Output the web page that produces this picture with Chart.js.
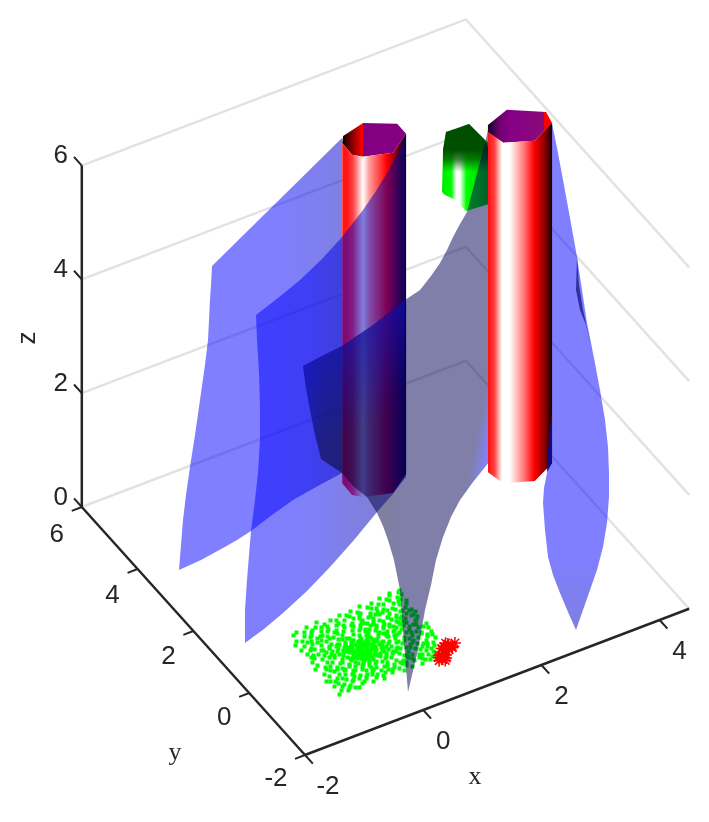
<!DOCTYPE html>
<html>
<head>
<meta charset="utf-8">
<title>3D scene</title>
<style>
  html, body { margin: 0; background: #fff; }
  canvas { display: block; }
</style>
<script src="https://cdn.jsdelivr.net/npm/chart.js@4"></script>
</head>
<body>
<canvas id="scene" width="709" height="822"></canvas>
<script>
// ---------- Data ----------
const xTicks = [-2, 0, 2, 4];
const yTicks = [-2, 0, 2, 4, 6];
const zTicks = [0, 2, 4, 6];
const xMax = 4.5;

// cylinder rims (x, y)
const leftRimX = [1.52, 1.61, 2.01, 2.43, 2.43, 2.05, 1.62, 1.51];
const leftRimY = [4.12, 4.28, 4.41, 4.08, 3.76, 3.42, 3.60, 3.75];
const rightRimX = [3.56, 3.97, 4.44, 4.39, 3.97, 3.55, 3.48];
const rightRimY = [3.22, 3.41, 3.00, 2.68, 2.41, 2.65, 3.05];
const cylinderZ = [0.05, 6.03];

// sheet outlines, read in the projected plane of the plot
const sheetA = [[212,266],[342,138],[342,473],[318,486],[293,500],[272,515],[251,531],[237,540],[223,548],[201,560],[179,570],[181,545],[183,520],[186,495],[190,467],[195,435],[200,400],[205,365],[208,340],[210,300],[211,285]];
const sheetB = [[256,315],[278,298],[300,280],[322,259],[342,237],[363,210],[376,191],[387,173],[397,155],[406,135],[406,477],[392,495],[377,512],[354,540],[330,567],[307,591],[283,613],[264,629],[245,643],[245,610],[247,580],[249,555],[251,531],[255,500],[258,473],[260,440],[260,407],[259,373],[257,340]];
const sheetC = [[303,366],[322,356],[342,346],[373,325],[405,300],[420,290],[431,276],[440,263],[447,250],[453,237],[460,224],[467,212],[485,143],[489,125],[500,125],[500,465],[488,463],[473,482],[460,500],[451,517],[443,537],[436,560],[431,585],[425,610],[418,650],[408,692],[403,630],[400,590],[394,560],[388,540],[383,526],[377,513],[367,497],[354,487],[342,473],[321,459],[315,435],[310,410],[306,388]];
const sheetCUpperGlow = [[303,366],[322,356],[342,346],[373,325],[405,300],[405,400],[342,441],[321,455],[315,435],[310,410],[306,388]];
const sheetCLowerGlow = [[488,380],[488,463],[473,482],[466,487]];
const sheetD = [[545,125],[552,123],[558,153],[563,180],[570,218],[577,257],[582,290],[587,323],[594,358],[600,390],[605,420],[608,447],[609,473],[609,497],[607,523],[603,547],[597,570],[590,590],[583,610],[576,630],[568,612],[560,593],[553,575],[548,557],[545,530],[543,503],[544,488],[547,473],[549,445],[552,420],[545,420]];
const sheetFoldUpper = [[577,257],[579,285],[583,310],[592,350],[586,325],[580,310],[576,290]];
const sheetFoldLower = [[552,410],[552,463],[547,472],[548,450]];

// small green body behind the right cylinder
const blobBody = [[446,132],[469,124],[485,140],[489,143],[489,204],[466,211],[456,200],[445,195],[442,192],[443,150]];
const blobCap = [[446,132],[469,124],[485,140],[489,150],[489,175],[443,175],[443,150]];

// scatter on the floor (x, y)
const greenPoints = [
[-.88,-.87],[-.72,-.85],[-.81,-.78],[-.64,-.74],[-.55,-.88],[-.47,-.81],[-.36,-.72],[-.31,-.86],[-.22,-.79],[-.13,-.9],[-.05,-.76],[.04,-.83],[.12,-.71],[.21,-.88],[.29,-.78],[.37,-.85],[.45,-.74],[.52,-.89],[.61,-.8],[.69,-.72],[.77,-.86],[.84,-.77],[-.76,-.7],[-.6,-.83],[-.41,-.77],[-.18,-.73],[.08,-.74],[.33,-.7],[.57,-.76],[.73,-.8],
[-.86,-.63],[-.79,-.52],[-.7,-.67],[-.62,-.58],[-.53,-.64],[-.49,-.51],[-.4,-.6],[-.33,-.68],[-.27,-.53],[-.2,-.62],[-.11,-.55],[-.07,-.66],[.01,-.59],[.09,-.52],[.15,-.64],[.23,-.57],[.31,-.62],[.38,-.51],[.44,-.67],[.5,-.56],[.58,-.63],[.65,-.52],[.72,-.6],[.8,-.68],[.87,-.55],[.93,-.64],[-.66,-.5],[-.16,-.5],[.27,-.69],[.62,-.66],[.78,-.51],
[-.89,-.42],[-.8,-.33],[-.73,-.46],[-.65,-.37],[-.58,-.44],[-.51,-.31],[-.43,-.41],[-.37,-.34],[-.3,-.47],[-.24,-.36],[-.17,-.43],[-.12,-.32],[-.03,-.4],[.03,-.46],[.07,-.33],[.14,-.39],[.2,-.45],[.26,-.35],[.34,-.42],[.41,-.31],[.47,-.47],[.55,-.38],[.6,-.45],[.68,-.34],[.75,-.41],[.83,-.36],[.9,-.46],[.97,-.38],[-.46,-.48],[-.21,-.3],[-.08,-.45],[.11,-.43],[.29,-.31],[-.55,-.34],
[-.84,-.24],[-.75,-.14],[-.68,-.27],[-.6,-.19],[-.54,-.26],[-.47,-.12],[-.41,-.22],[-.35,-.16],[-.29,-.28],[-.26,-.11],[-.2,-.2],[-.15,-.25],[-.14,-.13],[-.09,-.18],[-.04,-.27],[-.01,-.12],[.02,-.21],[.06,-.15],[.1,-.26],[.16,-.19],[.19,-.11],[.25,-.23],[.32,-.17],[.39,-.27],[.43,-.13],[.49,-.22],[.56,-.16],[.63,-.28],[.7,-.12],[.76,-.21],[.85,-.15],[.91,-.24],[1,-.18],[-.23,-.15],[-.18,-.16],[-.11,-.22],[-.06,-.14],[.04,-.24],[-.32,-.24],
[-.9,-.05],[-.82,.04],[-.74,-.08],[-.66,.02],[-.6,-.03],[-.52,.07],[-.45,-.06],[-.39,.03],[-.33,-.09],[-.28,.05],[-.24,-.04],[-.19,.01],[-.16,-.08],[-.13,.06],[-.1,-.02],[-.07,.08],[-.03,-.06],[.01,.03],[.05,-.09],[.08,.05],[.13,-.03],[.18,.07],[.22,-.07],[.28,.02],[.35,-.05],[.4,.08],[.46,-.02],[.53,.05],[.59,-.08],[.67,.01],[.74,.07],[.81,-.06],[.88,.03],[.95,-.01],[1.02,.06],[-.21,.08],[-.17,-.01],[-.09,.02],[-.05,.04],[-.26,-.06],[.11,.01],[-.43,.09],
[-.86,.16],[-.78,.24],[-.7,.13],[-.63,.2],[-.56,.27],[-.5,.12],[-.42,.18],[-.36,.26],[-.3,.11],[-.25,.21],[-.19,.15],[-.14,.28],[-.08,.12],[-.02,.2],[.03,.26],[.09,.14],[.15,.22],[.2,.11],[.27,.18],[.33,.27],[.39,.13],[.45,.22],[.51,.16],[.57,.28],[.64,.12],[.71,.2],[.78,.26],[.84,.14],[.92,.21],[.98,.29],[-.69,.29],[-.11,.19],[.06,.11],[.36,.2],[.6,.23],[-.47,.24],
[-.83,.38],[-.76,.32],[-.68,.44],[-.61,.35],[-.55,.47],[-.48,.33],[-.41,.41],[-.34,.36],[-.27,.46],[-.21,.34],[-.15,.42],[-.09,.31],[-.03,.45],[.04,.37],[.1,.48],[.17,.33],[.24,.43],[.3,.36],[.37,.47],[.42,.32],[.48,.41],[.55,.37],[.62,.46],[.68,.33],[.75,.42],[.82,.36],[.89,.48],[.96,.39],[1.03,.44],[-.38,.31],[.19,.47],[.5,.49],[.72,.47],
[-.85,.55],[-.77,.62],[-.71,.51],[-.64,.66],[-.57,.58],[-.52,.68],[-.44,.53],[-.37,.63],[-.31,.56],[-.24,.67],[-.18,.52],[-.12,.61],[-.06,.69],[.01,.55],[.07,.64],[.13,.53],[.21,.66],[.28,.58],[.34,.51],[.41,.65],[.47,.56],[.53,.68],[.59,.54],[.66,.62],[.73,.52],[.79,.67],[.86,.57],[.94,.63],[1,.53],[-.5,.6],[.16,.6],[.38,.57],
[-.83,.8],[-.75,.74],[-.67,.85],[-.6,.77],[-.53,.88],[-.46,.72],[-.39,.82],[-.32,.75],[-.26,.87],[-.19,.71],[-.13,.83],[-.04,.76],[.03,.88],[.09,.73],[.16,.84],[.23,.78],[.3,.89],[.36,.71],[.43,.81],[.49,.74],[.56,.86],[.63,.77],[.7,.89],[.76,.72],[.83,.82],[.9,.75],[.97,.87],[1.04,.79],[-.28,.79],[.26,.71],[.6,.72],
[-.8,.97],[-.71,1.02],[-.62,.94],[-.54,1.04],[-.43,.96],[-.35,1.07],[-.27,.95],[-.16,1],[-.08,.93],[.02,1.05],[.11,.97],[.2,1.03],[.28,.94],[.37,1.08],[.46,.98],[.55,1.03],[.64,.95],[.72,1.09],[.8,1],[.87,1.06],[.95,.94],[1.02,1.04],[1.06,1.1],[.9,1.1],
[-.84,-.46],[-.67,-.11],[-.58,.33],[-.44,-.29],[-.38,.57],[-.29,-.63],[-.23,.29],[-.17,-.58],[-.12,.38],[-.06,-.33],[.02,.16],[.06,-.61],[.13,.31],[.18,-.32],[.24,.62],[.31,-.09],[.35,.42],[.42,-.56],[.48,.06],[.54,.79],[.59,-.31],[.66,.37],[.71,-.47],[.77,.13],[.83,.58],[.88,-.28],[.94,.24],[.99,.71],[-.74,.46],[-.62,-.23],[-.53,.16],[-.48,-.57],[-.42,.72],[-.36,-.04],[-.31,.33],[-.27,-.41],[-.22,.17],[-.2,-.09],[-.16,.24],[-.13,-.36],[-.1,.09],[-.08,-.11],[-.05,.23],[-.02,-.15],[.01,.11],[.04,-.06],[.07,.18],[.1,-.12],[.14,.08],[.17,-.24],[.22,.13],[.26,-.14],[.3,.24],[.36,-.29],[.41,.17],[.47,-.12],[.52,.31],[.58,.09],[.64,-.17],[.69,.27],[.73,-.03],[.79,.44],[.86,-.11],[.92,.38],[.97,-.27],[-.81,.29],[-.72,-.19],[-.65,.58],[-.59,.11],[-.51,-.13],[-.46,.37],[-.4,-.42],[-.35,.13],[-.29,.22],[-.25,-.17],[-.22,.44],[-.18,-.28],[-.15,.05],[-.12,-.07],[-.1,.31],[-.07,-.23],[-.04,.14],[-.01,-.03],[.03,.3],[.06,-.28],[.09,.04],[.12,.24],[.16,.41],[.2,-.16],[.24,.01],[.29,.51],[.33,-.36],[.38,.09],[.44,.36],[.5,-.36],[.55,.18],[.61,.55],[.67,-.24],[.74,.31],[.81,-.44],[.89,.12],[.95,.51],[1.01,-.06],[-.87,.72],[-.69,.69],[-.56,.81],[-.49,.93],[-.34,.91],[-.21,.61],[-.09,.86],[.05,.68],[.14,.93],[.27,.84],[.4,.73],[.51,.92],[.67,.71],[.81,.93],[.92,.83],[1.03,.97],[-.77,-.59],[-.68,-.79],[-.57,-.68],[-.44,-.66],[-.24,-.69],[-.1,-.8],[.02,-.71],[.17,-.79],[.25,-.66],[.41,-.62],[.55,-.71],[.67,-.85],[.8,-.59],[.89,-.72],
[-.15,-.04],[-.12,-.16],[-.2,.11],[-.24,.03],[-.07,.15],[-.03,-.12],[.03,.07],[-.18,-.2],[-.11,.13],[-.27,.11],[.09,-.06],[.15,.15],[-.33,.17],[-.3,-.13],[-.06,-.08],[.01,.24],[.19,-.02],[-.13,.01],[-.17,.17],[-.02,.06]
];
const redPoints = [[1.03,-.71],[.98,-.66],[1.09,-.74],[1.06,-.64],[.96,-.76],[1.16,-.68],[1.01,-.79],[.93,-.69],[1.07,-.77],[.99,-.72],[1.04,-.6],[.83,-.92],[.79,-.88],[.88,-.96],[.86,-.86],[.76,-.96],[.91,-.89],[.82,-.83],[.84,-1.01]];

// ---------- Projection of the 3D axes onto the plot plane ----------
function plot(x, y, z) {
  return {
    x: 305 + 59.1 * (x + 2) - 27.9 * (y + 2),
    y: 755 - 22.5 * (x + 2) - 31 * (y + 2) - 56.9 * z,
  };
}
const fromPairs = (list) => list.map(([u, v]) => ({ x: u, y: v }));

const ctx = document.getElementById("scene").getContext("2d");

function slantGrad(x0, y0, x1, y1, stops) {
  const g = ctx.createLinearGradient(x0, y0, x1, y1);
  stops.forEach(([p, c]) => g.addColorStop(p, c));
  return g;
}
const hGrad = (x0, x1, stops) => slantGrad(x0, 0, x1, 0, stops);
const vGrad = (y0, y1, stops) => slantGrad(0, y0, 0, y1, stops);

// ---------- Layers, listed back to front ----------
const layers = [];

function polygon(points, color) {
  layers.push({ data: points, showLine: true, fill: "shape", backgroundColor: color, borderWidth: 0, pointRadius: 0, tension: 0 });
}
function line(points, color, width) {
  layers.push({ data: points, showLine: true, fill: false, borderColor: color, borderWidth: width, pointRadius: 0, tension: 0, borderCapStyle: "butt", borderJoinStyle: "miter" });
}
function rim(xs, ys, z) {
  return xs.map((x, i) => plot(x, ys[i], z));
}
function cylinderBody(xs, ys, front) {
  const top = front.map((i) => plot(xs[i], ys[i], cylinderZ[1]));
  const bottom = front.map((i) => plot(xs[i], ys[i], cylinderZ[0])).reverse();
  return top.concat(bottom);
}
// squares stay crisp when centred on a pixel
function floorMark([x, y]) {
  const p = plot(x, y, 0);
  return { x: Math.floor(p.x) + 0.5, y: Math.floor(p.y) + 0.5 };
}

// back walls: z grid lines
zTicks.forEach((z) => {
  line([plot(-2, 6, z), plot(xMax, 6, z), plot(xMax, -2, z)], "#e2e2e2", 2.5);
});

// green body
polygon(fromPairs(blobBody), hGrad(442, 489, [[0, "#00e800"], [0.2, "#00ff00"], [0.3, "#ffffff"], [0.38, "#ffffff"], [0.52, "#00ff00"], [1, "#00c000"]]));
polygon(fromPairs(blobCap), vGrad(150, 172, [[0, "#004f00"], [0.45, "rgba(0,90,0,0.75)"], [1, "rgba(0,120,0,0)"]]));

// right sheet
polygon(fromPairs(sheetD), vGrad(560, 630, [[0, "rgba(0,0,255,0.5)"], [1, "rgba(0,0,190,0.5)"]]));
polygon(fromPairs(sheetFoldUpper), "rgba(40,40,150,0.9)");

// floor scatter
layers.push({ data: greenPoints.map(floorMark), showLine: false, pointStyle: "rect", pointRadius: 2.85, borderWidth: 0, backgroundColor: "#00ff00" });
layers.push({ data: redPoints.map((p) => plot(p[0], p[1], 0)), showLine: false, pointStyle: "star", pointRadius: 6, borderWidth: 1.5, borderColor: "#ff0000", backgroundColor: "#ff0000" });

// left cylinder
polygon(rim(leftRimX, leftRimY, cylinderZ[1]), hGrad(342, 406, [[0, "#050000"], [0.15, "#800000"], [0.32, "#ff0000"], [0.33, "#820082"], [1, "#860080"]]));
polygon(cylinderBody(leftRimX, leftRimY, [0, 7, 6, 5, 4]), hGrad(342, 406, [[0, "#ff1010"], [0.08, "#ff1818"], [0.17, "#ff4040"], [0.33, "#ffffff"], [0.42, "#ffa0a0"], [0.7, "#ff0000"], [0.85, "#800010"], [1, "#100010"]]));

// three sheets in front of it
polygon(fromPairs(sheetA), hGrad(179, 342, [[0, "rgba(0,0,255,0.5)"], [0.6, "rgba(0,0,255,0.5)"], [1, "rgba(0,0,205,0.5)"]]));
polygon(fromPairs(sheetB), hGrad(245, 406, [[0, "rgba(0,0,255,0.5)"], [0.4, "rgba(0,0,245,0.5)"], [1, "rgba(0,0,150,0.5)"]]));
polygon(fromPairs(sheetC), hGrad(303, 500, [[0, "rgba(0,0,90,0.5)"], [0.12, "rgba(0,0,20,0.5)"], [0.3, "rgba(0,0,50,0.5)"], [0.5, "rgba(0,0,85,0.5)"], [1, "rgba(0,0,85,0.5)"]]));
polygon(fromPairs(sheetCUpperGlow), slantGrad(354, 333, 400, 403, [[0, "rgba(20,20,220,0.45)"], [1, "rgba(20,20,220,0)"]]));
polygon(fromPairs(sheetCLowerGlow), slantGrad(477, 433, 498, 437, [[0, "rgba(130,130,255,0)"], [0.6, "rgba(130,130,255,0.85)"], [1, "rgba(130,130,255,0.95)"]]));

// right cylinder sits in front of everything
polygon(rim(rightRimX, rightRimY, cylinderZ[1]), hGrad(488, 552, [[0, "#140028"], [0.18, "#700070"], [0.35, "#860086"], [0.87, "#8c0a78"], [0.88, "#ff0000"], [1, "#ff0000"]]));
polygon(cylinderBody(rightRimX, rightRimY, [6, 5, 4, 3]), hGrad(488, 552, [[0, "#ff1010"], [0.1, "#ff4040"], [0.22, "#ffffff"], [0.34, "#ffffff"], [0.55, "#ff8080"], [0.72, "#ff0000"], [0.88, "#900000"], [1, "#1a0000"]]));
polygon(fromPairs(sheetFoldLower), "rgba(20,10,130,1)");

// axes and ticks
const AXIS = "#262626";
line([plot(-2, -2, 0), plot(xMax, -2, 0)], AXIS, 2.5);
line([plot(-2, -2, 0), plot(-2, 6, 0)], AXIS, 2.5);
line([plot(-2, 6, 0), plot(-2, 6, 6)], AXIS, 2.5);
xTicks.forEach((x) => line([plot(x, -2, 0), plot(x, -2.28, 0)], AXIS, 2));
yTicks.forEach((y) => line([plot(-2, y, 0), plot(-2.17, y, 0)], AXIS, 2));
zTicks.forEach((z) => line([plot(-2, 6, z), plot(-2, 6.28, z)], AXIS, 2));

// lower order is drawn on top, so the last layer gets the lowest
layers.forEach((d, i) => { d.order = layers.length - i; });

// ---------- Text ----------
const axisText = {
  id: "axisText",
  afterDraw(chart) {
    const c = chart.ctx;
    const sx = chart.scales.x, sy = chart.scales.y;
    const put = (text, p, dx, dy) => c.fillText(text, sx.getPixelForValue(p.x) + dx, sy.getPixelForValue(p.y) + dy);
    c.save();
    c.fillStyle = AXIS;
    c.textAlign = "center";
    c.textBaseline = "middle";
    c.font = "26px 'Liberation Sans', Arial, sans-serif";
    xTicks.forEach((x) => put(String(x), plot(x, -2, 0), x < 0 ? 23 : 20, 32));
    yTicks.forEach((y) => put(String(y), plot(-2, y, 0), y < 0 ? -29 : -25, 25 + y * 0.4));
    zTicks.forEach((z) => put(String(z), plot(-2, 6, z), -21, -9.5));
    c.translate(28, 338);
    c.rotate(-Math.PI / 2);
    c.fillText("z", 0, 0);
    c.restore();
    c.save();
    c.fillStyle = AXIS;
    c.textAlign = "center";
    c.textBaseline = "middle";
    c.font = "26px 'Liberation Serif', 'Times New Roman', serif";
    c.fillText("y", 175, 753);
    c.fillText("x", 475, 777);
    c.restore();
  },
};

new Chart(ctx, {
  type: "scatter",
  data: { datasets: layers },
  plugins: [axisText],
  options: {
    responsive: false,
    animation: false,
    devicePixelRatio: 1,
    events: [],
    layout: { padding: 0, autoPadding: false },
    plugins: { legend: { display: false }, tooltip: { enabled: false } },
    scales: {
      x: { type: "linear", min: 0, max: 709, display: false },
      y: { type: "linear", min: 0, max: 822, reverse: true, display: false },
    },
  },
});
</script>
</body>
</html>
